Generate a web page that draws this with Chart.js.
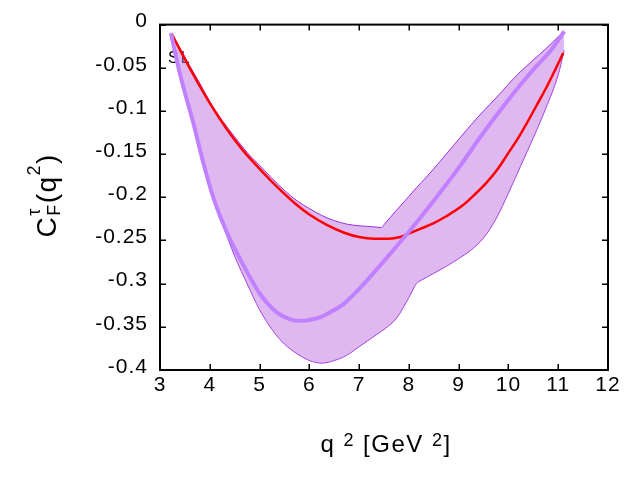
<!DOCTYPE html>
<html><head><meta charset="utf-8">
<script src="https://cdn.jsdelivr.net/npm/chart.js@4.4.0/dist/chart.umd.min.js"></script>
<style>html,body{margin:0;padding:0;background:#fff}#wrap{width:640px;height:480px}</style>
</head><body><div id="wrap"><canvas id="c" width="640" height="480"></canvas></div>
<script>
// ---- data ----
const bandX     = [3.22,3.4,3.6,3.8,4.0,4.25,4.5,4.75,5.0,5.25,5.5,5.75,6.0,6.25,6.5,6.75,7.0,7.25,7.4,7.45,7.5,7.75,8.0,8.15,8.25,8.5,8.75,9.0,9.25,9.5,9.75,10.0,10.25,10.5,10.75,11.0,11.12];
const bandUpper = [-0.010,-0.027,-0.048,-0.068,-0.089,-0.111,-0.130,-0.148,-0.163,-0.178,-0.192,-0.204,-0.213,-0.221,-0.227,-0.231,-0.233,-0.234,-0.2348,-0.235,-0.2317,-0.215,-0.199,-0.189,-0.183,-0.167,-0.150,-0.133,-0.116,-0.100,-0.085,-0.069,-0.054,-0.041,-0.028,-0.014,-0.007];
const bandLower = [-0.010,-0.058,-0.100,-0.143,-0.186,-0.230,-0.268,-0.300,-0.330,-0.353,-0.370,-0.381,-0.389,-0.392,-0.389,-0.383,-0.373,-0.363,-0.357,-0.355,-0.353,-0.340,-0.316,-0.300,-0.296,-0.288,-0.280,-0.271,-0.261,-0.247,-0.225,-0.195,-0.163,-0.131,-0.097,-0.058,-0.030];
const centralX  = [3.23,3.4,3.67,4.0,4.34,4.67,5.0,5.25,5.5,5.75,6.0,6.35,6.7,7.0,7.3,7.6,7.82,8.0,8.25,8.5,8.75,9.09,9.3,9.56,9.8,9.96,10.2,10.37,10.6,10.77,10.95,11.1];
const centralY  = [-0.010,-0.029,-0.058,-0.091,-0.121,-0.146,-0.167,-0.182,-0.196,-0.209,-0.220,-0.232,-0.241,-0.246,-0.248,-0.248,-0.246,-0.242,-0.236,-0.230,-0.222,-0.209,-0.198,-0.183,-0.166,-0.152,-0.131,-0.114,-0.090,-0.072,-0.051,-0.033];
const altX      = [3.22,3.4,3.67,3.87,4.07,4.34,4.67,5.01,5.34,5.6,5.81,6.0,6.21,6.45,6.68,6.85,7.02,7.3,7.6,8.0,8.5,9.0,9.5,10.0,10.5,10.85,11.12];
const altY      = [-0.010,-0.057,-0.114,-0.160,-0.200,-0.240,-0.278,-0.312,-0.333,-0.341,-0.343,-0.342,-0.339,-0.332,-0.324,-0.315,-0.305,-0.287,-0.267,-0.240,-0.204,-0.166,-0.125,-0.087,-0.052,-0.030,-0.008];
const xTicks      = [3,4,5,6,7,8,9,10,11,12];
const xTickLabels = ['3','4','5','6','7','8','9','10','11','12'];
const yTicks      = [0,-0.05,-0.1,-0.15,-0.2,-0.25,-0.3,-0.35,-0.4];
const yTickLabels = ['0','-0.05','-0.1','-0.15','-0.2','-0.25','-0.3','-0.35','-0.4'];
const keyText = 'SL';

const FONT = '"Liberation Sans", Arial, Helvetica, sans-serif';
const pts = (xs, ys) => xs.map((x, i) => ({x, y: ys[i]}));

function richWidth(ctx, pieces) {
  let w = 0, prevStart = 0, prevW = 0;
  for (const p of pieces) {
    ctx.font = p.s + 'px ' + FONT;
    const m = ctx.measureText(p.t).width;
    if (p.same) { prevW = Math.max(prevW, m); w = prevStart + prevW; }
    else { prevStart = w; prevW = m; w += m; }
  }
  return w;
}
function drawRich(ctx, pieces, x0, y0) {
  let x = x0, prevStart = x0, prevW = 0;
  for (const p of pieces) {
    ctx.font = p.s + 'px ' + FONT;
    const m = ctx.measureText(p.t).width;
    if (p.same) { ctx.fillText(p.t, prevStart, y0 + p.dy); prevW = Math.max(prevW, m); x = prevStart + prevW; }
    else { ctx.fillText(p.t, x, y0 + p.dy); prevStart = x; prevW = m; x += m; }
  }
}

const SPACING = '1px';
const decor = {
  id: 'decor',
  beforeLayout(chart) { chart.ctx.letterSpacing = SPACING; },
  beforeDraw(chart) {
    const ctx = chart.ctx;
    ctx.save();
    ctx.fillStyle = '#fff';
    ctx.fillRect(0, 0, chart.width, chart.height);
    ctx.fillStyle = '#000';
    ctx.font = '16px ' + FONT;
    ctx.letterSpacing = '2px';
    ctx.textBaseline = 'alphabetic';
    ctx.fillText(keyText, chart.chartArea.left + 8, chart.chartArea.top + 38);
    ctx.restore();
    ctx.letterSpacing = SPACING;
  },
  afterDraw(chart) {
    const ctx = chart.ctx;
    const {left, right, top, bottom} = chart.chartArea;
    const xs = chart.scales.x, ys = chart.scales.y;
    ctx.save();
    ctx.strokeStyle = '#000';
    ctx.lineWidth = 1.5;
    ctx.beginPath();
    for (const v of xTicks) {
      const p = Math.round(xs.getPixelForValue(v)) + 0.25;
      ctx.moveTo(p, bottom); ctx.lineTo(p, bottom - 6);
      ctx.moveTo(p, top); ctx.lineTo(p, top + 6);
    }
    for (const v of yTicks) {
      const p = Math.round(ys.getPixelForValue(v)) + 0.25;
      ctx.moveTo(left, p); ctx.lineTo(left + 6, p);
      ctx.moveTo(right, p); ctx.lineTo(right - 6, p);
    }
    ctx.stroke();
    ctx.lineWidth = 2;
    ctx.strokeRect(left, top, right - left, bottom - top);

    ctx.fillStyle = '#000';
    ctx.textBaseline = 'alphabetic';
    ctx.textAlign = 'left';
    ctx.letterSpacing = '1.5px';
    const xt = [
      {t: 'q ', s: 24, dy: 0}, {t: '2', s: 18, dy: -6},
      {t: ' [GeV ', s: 24, dy: 0}, {t: '2', s: 18, dy: -6}, {t: ']', s: 24, dy: 0}
    ];
    const wx = richWidth(ctx, xt);
    drawRich(ctx, xt, (left + right) / 2 - wx / 2 + 2, 452);

    const yt = [
      {t: 'C', s: 28, dy: 0}, {t: 'F', s: 18, dy: 4}, {t: '\u03C4', s: 18, dy: -16, same: true},
      {t: '(q', s: 28, dy: 0}, {t: '2', s: 18, dy: -16}, {t: ')', s: 28, dy: 0}
    ];
    const wy = richWidth(ctx, yt);
    ctx.translate(56, (top + bottom) / 2 - 2);
    ctx.rotate(-Math.PI / 2);
    drawRich(ctx, yt, -wy / 2, 0);
    ctx.restore();
  }
};

const lineBase = { pointRadius: 0, cubicInterpolationMode: 'monotone' };
new Chart(document.getElementById('c'), {
  type: 'line',
  data: {
    datasets: [
      Object.assign({ label: 'alt', data: pts(altX, altY), borderColor: '#c080ff', borderWidth: 4, fill: false }, lineBase),
      Object.assign({ label: 'central', data: pts(centralX, centralY), borderColor: '#ff0000', borderWidth: 2.5, fill: false }, lineBase),
      Object.assign({ label: 'upper', data: pts(bandX, bandUpper), borderColor: '#9b30e0', borderWidth: 1, fill: '+1', backgroundColor: 'rgba(193,113,225,0.5)' }, lineBase),
      Object.assign({ label: 'lower', data: pts(bandX, bandLower), borderColor: '#9b30e0', borderWidth: 1, fill: false }, lineBase)
    ]
  },
  options: {
    responsive: false,
    animation: false,
    devicePixelRatio: 1,
    layout: { padding: { left: 0, right: 32, top: 20, bottom: 0 } },
    plugins: { legend: { display: false }, tooltip: { enabled: false } },
    scales: {
      x: {
        type: 'linear', min: 3, max: 12,
        grid: { display: false, drawTicks: false }, border: { display: false },
        afterBuildTicks: s => { s.ticks = xTicks.map(v => ({value: v})); },
        afterFit: s => { s.height = 110; },
        ticks: { autoSkip: false, maxRotation: 0, minRotation: 0, padding: 3, color: '#000',
          font: { family: FONT, size: 21 },
          callback: (v, i) => xTickLabels[i] }
      },
      y: {
        type: 'linear', min: -0.4, max: 0,
        grid: { display: false, drawTicks: false }, border: { display: false },
        afterBuildTicks: s => { s.ticks = yTicks.slice().reverse().map(v => ({value: v})); },
        afterFit: s => { s.width = 160; },
        ticks: { autoSkip: false, padding: 12, labelOffset: -3, color: '#000',
          font: { family: FONT, size: 21 },
          callback: (v) => yTickLabels[yTicks.findIndex(t => Math.abs(t - v) < 1e-9)] }
      }
    }
  },
  plugins: [decor]
});
</script>
</body></html>
